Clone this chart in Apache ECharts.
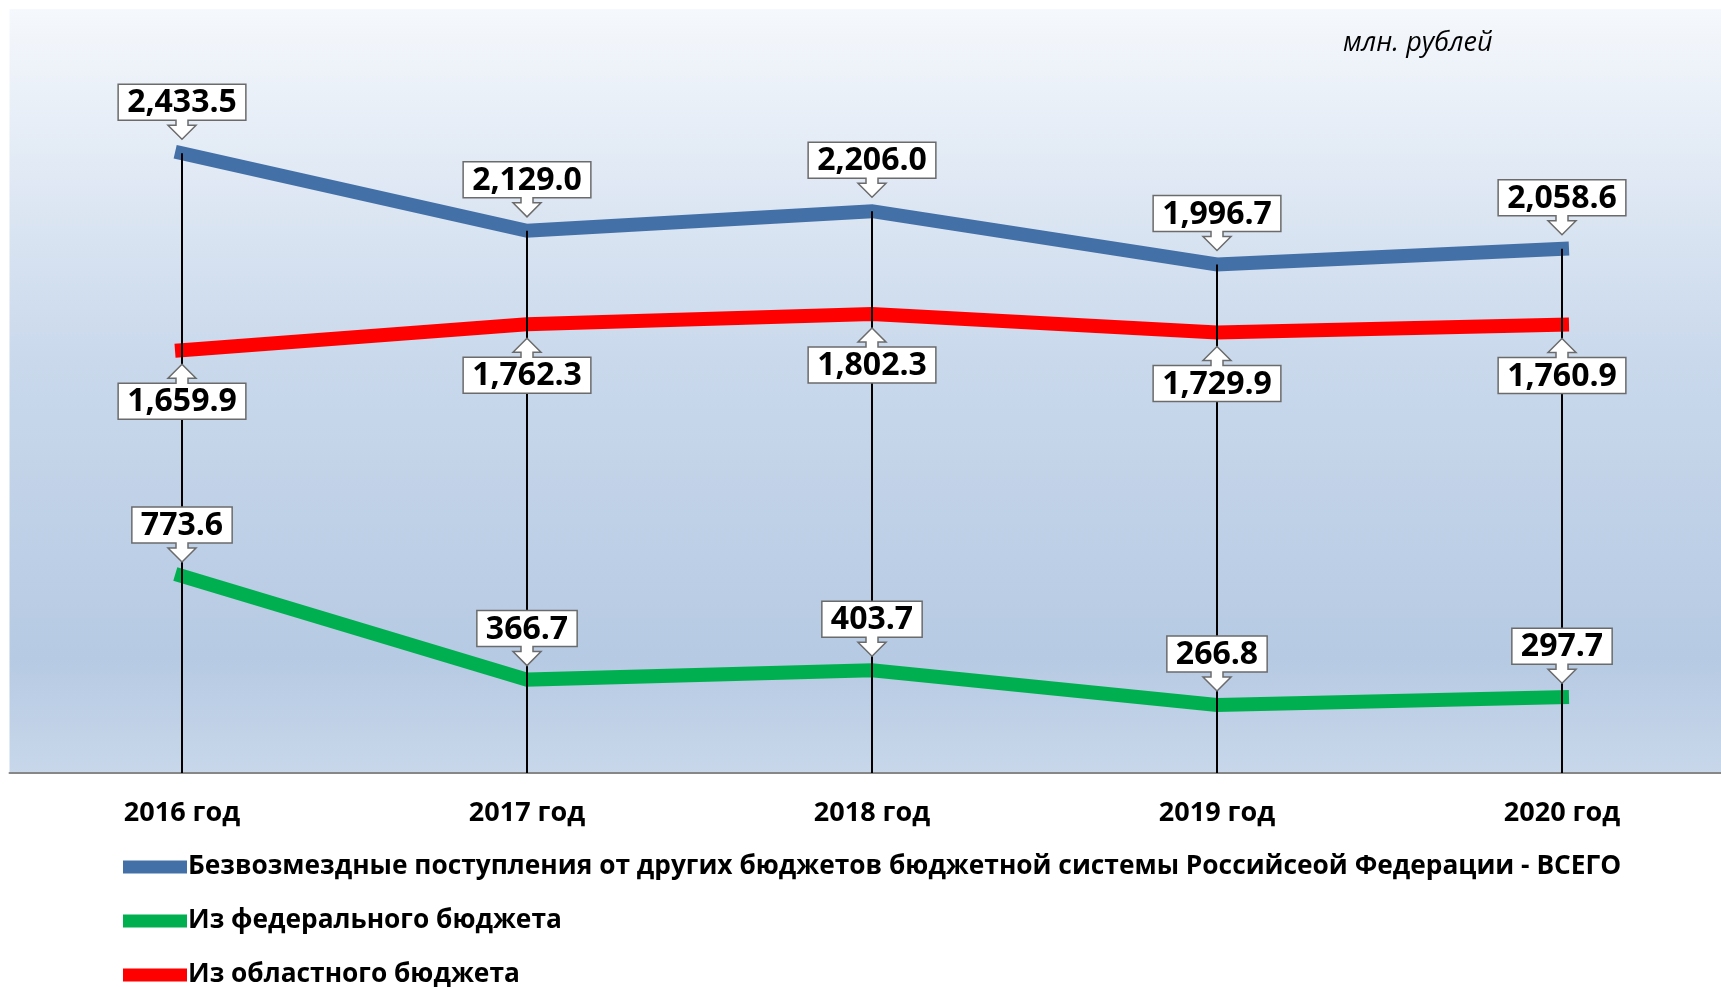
<!DOCTYPE html>
<html>
<head>
<meta charset="utf-8">
<script src="https://cdn.jsdelivr.net/npm/echarts@6/dist/echarts.min.js"></script>
<style>
    html, body { margin: 0; padding: 0; background: #fff; overflow: hidden; }
    /* холст чуть шире окна: крайняя категория обрезается справа, как в исходнике */
    #chart { width: 1740px; height: 987px; }
</style>
</head>
<body>
<div id="chart"></div>
<script>
// данные, млн. рублей
var years = ['2016 год', '2017 год', '2018 год', '2019 год', '2020 год'];
var totalValues = [2433.5, 2129.0, 2206.0, 1996.7, 2058.6];
var federalValues = [773.6, 366.7, 403.7, 266.8, 297.7];
var regionalValues = [1659.9, 1762.3, 1802.3, 1729.9, 1760.9];
var seriesNames = [
    'Безвозмездные поступления от других бюджетов бюджетной системы Российсеой Федерации - ВСЕГО',
    'Из федерального бюджета',
    'Из областного бюджета'
];
var unitText = 'млн. рублей';

var COLORS = { total: '#4470a8', federal: '#00b050', regional: '#ff0000' };
var labelFont = 'bold 32px "Open Sans"';

var measureCtx = document.createElement('canvas').getContext('2d');
function textWidth(s) {
    measureCtx.font = labelFont;
    return measureCtx.measureText(s).width;
}
function fmt(v) {
    return v.toLocaleString('en-US', { minimumFractionDigits: 1, maximumFractionDigits: 1 });
}

// выноска со стрелкой: dir = -1 над точкой, 1 под точкой
function callouts(values, dir) {
    return {
        type: 'custom',
        z: 10,
        silent: true,
        data: values.map(function (v, i) { return [i, v]; }),
        renderItem: function (params, api) {
            var p = api.coord([api.value(0), api.value(1)]);
            var cx = p[0], py = p[1];
            var text = fmt(api.value(1));
            var half = textWidth(text) / 2 + 9;
            var tip = py + dir * 14;
            var head = tip + dir * 14;
            var near = head + dir * 5;
            var far = near + dir * 36;
            var L = cx - half, R = cx + half;
            return {
                type: 'group',
                children: [{
                    type: 'polygon',
                    shape: {
                        points: [
                            [L, far], [R, far], [R, near], [cx + 6, near], [cx + 6, head],
                            [cx + 14, head], [cx, tip], [cx - 14, head], [cx - 6, head],
                            [cx - 6, near], [L, near]
                        ]
                    },
                    style: { fill: '#fff', stroke: '#6b6b6b', lineWidth: 1.5 }
                }, {
                    type: 'text',
                    x: cx,
                    y: (near + far) / 2 + 1,
                    style: {
                        text: text, font: labelFont, fill: '#000',
                        align: 'center', verticalAlign: 'middle'
                    }
                }]
            };
        }
    };
}

function lineSeries(name, values, color) {
    return {
        name: name,
        type: 'line',
        data: values,
        color: color,
        symbol: 'none',
        z: 2,
        silent: true,
        lineStyle: { width: 14, color: color, cap: 'square', join: 'miter' }
    };
}

// по одной легенде на строку, чтобы не переносилась в колонки
function legendRow(name, top) {
    return {
        data: [name],
        left: 123,
        top: top,
        padding: 0,
        icon: 'rect',
        itemWidth: 64,
        itemHeight: 13,
        itemStyle: { borderWidth: 0 },
        selectedMode: false,
        textStyle: {
            fontFamily: 'Open Sans',
            fontWeight: 'bold',
            fontSize: 26.3,
            color: '#000',
            padding: [0, 0, 0, -4]
        }
    };
}

var chart = echarts.init(document.getElementById('chart'));
chart.setOption({
    animation: false,
    grid: {
        left: 9.5,
        top: 9,
        width: 1725,
        bottom: 214,
        show: true,
        borderWidth: 0,
        backgroundColor: new echarts.graphic.LinearGradient(0, 0, 0, 1, [
            { offset: 0, color: '#f5f8fc' },
            { offset: 0.45, color: '#cad9ec' },
            { offset: 0.85, color: '#b6cae3' },
            { offset: 1, color: '#c8d7ea' }
        ])
    },
    xAxis: {
        type: 'category',
        data: years,
        boundaryGap: true,
        axisTick: { show: false },
        axisLine: { lineStyle: { color: '#878787', width: 2 } },
        axisLabel: {
            margin: 27,
            color: '#000',
            fontFamily: 'Open Sans',
            fontWeight: 'bold',
            fontSize: 27
        }
    },
    yAxis: {
        type: 'value',
        min: 0,
        max: 3000,
        show: false,
        splitLine: { show: false }
    },
    legend: [
        legendRow(seriesNames[0], 854),
        legendRow(seriesNames[1], 908),
        legendRow(seriesNames[2], 962)
    ],
    graphic: [{
        type: 'text',
        left: 1343,
        top: 30,
        style: {
            text: unitText,
            font: 'italic 27px "Open Sans"',
            fill: '#000'
        }
    }],
    series: [
        lineSeries(seriesNames[0], totalValues, COLORS.total),
        lineSeries(seriesNames[2], regionalValues, COLORS.regional),
        lineSeries(seriesNames[1], federalValues, COLORS.federal),
        {
            // вертикальные линии до точки ВСЕГО
            type: 'bar',
            data: totalValues,
            barWidth: 2,
            z: 5,
            silent: true,
            itemStyle: { color: '#000' }
        },
        callouts(totalValues, -1),
        callouts(regionalValues, 1),
        callouts(federalValues, -1)
    ]
});
</script>
</body>
</html>
